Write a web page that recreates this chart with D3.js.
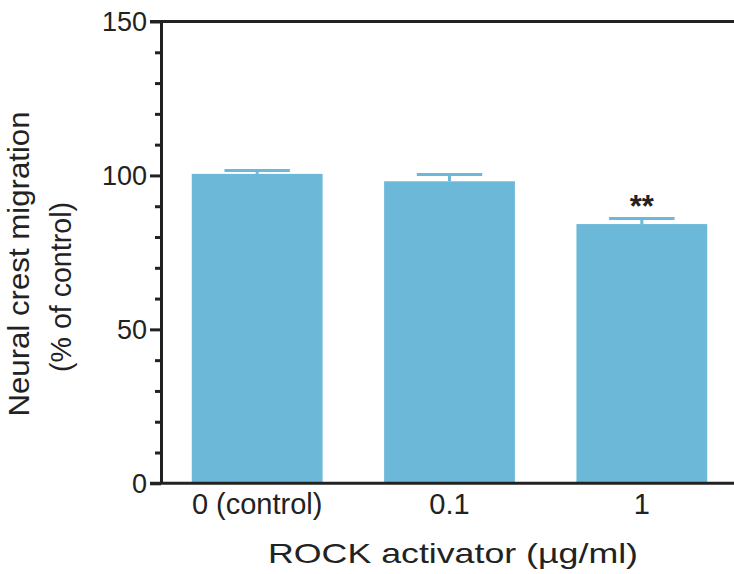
<!DOCTYPE html>
<html>
<head>
<meta charset="utf-8">
<script src="https://cdn.jsdelivr.net/npm/d3@7"></script>
<style>
  body { margin: 0; background: #fff; }
  svg text { font-family: "Liberation Sans", Arial, sans-serif; fill: #222; }
</style>
</head>
<body>
<script>
// data
var categories = ["0 (control)", "0.1", "1"];
var means = [100.5, 98.1, 84.2];
var sems = [1.1, 2.2, 1.8];
var marks = ["", "", "**"];
var yTicks = [0, 50, 100, 150];
var yMinorTicks = [10, 20, 30, 40, 60, 70, 80, 90, 110, 120, 130, 140];

var w = 734, h = 574;
var axisColor = "#222";
var barColor = "#6cb8d8";

var svg = d3.select("body").append("svg")
  .attr("width", w)
  .attr("height", h);

var x = d3.scaleBand()
  .domain(categories)
  .range([161, 738])
  .paddingInner(0.32)
  .paddingOuter(0.16);

var y = d3.scaleLinear()
  .domain([0, 150])
  .range([483.3, 21.5]);

var data = categories.map(function(c, i) {
  return { cat: c, mean: means[i], sem: sems[i], mark: marks[i] };
});

// bars
svg.selectAll("rect.bar")
  .data(data)
  .enter()
  .append("rect")
  .attr("class", "bar")
  .attr("x", function(d) { return x(d.cat); })
  .attr("y", function(d) { return y(d.mean); })
  .attr("width", x.bandwidth())
  .attr("height", function(d) { return y(0) - y(d.mean); })
  .attr("fill", barColor);

// error bars (upper half only, like the original)
var capW = x.bandwidth() * 0.5;
var err = svg.selectAll("g.err")
  .data(data)
  .enter()
  .append("g")
  .attr("class", "err");

err.append("line")
  .attr("x1", function(d) { return x(d.cat) + x.bandwidth() / 2; })
  .attr("x2", function(d) { return x(d.cat) + x.bandwidth() / 2; })
  .attr("y1", function(d) { return y(d.mean); })
  .attr("y2", function(d) { return y(d.mean + d.sem); })
  .attr("stroke", barColor)
  .attr("stroke-width", 3);

err.append("line")
  .attr("x1", function(d) { return x(d.cat) + x.bandwidth() / 2 - capW / 2; })
  .attr("x2", function(d) { return x(d.cat) + x.bandwidth() / 2 + capW / 2; })
  .attr("y1", function(d) { return y(d.mean + d.sem); })
  .attr("y2", function(d) { return y(d.mean + d.sem); })
  .attr("stroke", barColor)
  .attr("stroke-width", 3);

// significance stars
svg.selectAll("text.mark")
  .data(data)
  .enter()
  .append("text")
  .attr("class", "mark")
  .attr("x", function(d) { return x(d.cat) + x.bandwidth() / 2; })
  .attr("y", function(d) { return y(d.mean + d.sem) - 2; })
  .attr("text-anchor", "middle")
  .attr("font-size", 31)
  .attr("font-weight", "bold")
  .text(function(d) { return d.mark; });

// y axis - major ticks
var yAxis = svg.append("g")
  .attr("transform", "translate(161,0)")
  .call(d3.axisLeft(y).tickValues(yTicks).tickSize(11).tickPadding(3).tickSizeOuter(0));
yAxis.select(".domain").attr("stroke", axisColor).attr("stroke-width", 3);
yAxis.selectAll(".tick line").attr("stroke", axisColor).attr("stroke-width", 3);
yAxis.selectAll(".tick text")
  .attr("font-size", 27)
  .attr("font-family", null)
  .attr("fill", axisColor)
  .attr("dy", "0.35em");

// y axis - minor ticks
var yMinor = svg.append("g")
  .attr("transform", "translate(161,0)")
  .call(d3.axisLeft(y).tickValues(yMinorTicks).tickSize(6).tickFormat(""));
yMinor.select(".domain").remove();
yMinor.selectAll(".tick line").attr("stroke", axisColor).attr("stroke-width", 3);

// x axis
var xAxis = svg.append("g")
  .attr("transform", "translate(0," + y(0) + ")")
  .call(d3.axisBottom(x).tickSize(0).tickPadding(10));
xAxis.select(".domain").remove();
xAxis.selectAll(".tick text")
  .attr("font-size", 29)
  .attr("font-family", null)
  .attr("fill", axisColor)
  .attr("dy", "0.71em");

// x baseline and top frame line
svg.append("line")
  .attr("x1", 150).attr("x2", w)
  .attr("y1", y(0)).attr("y2", y(0))
  .attr("stroke", axisColor).attr("stroke-width", 3);
svg.append("line")
  .attr("x1", 150).attr("x2", w)
  .attr("y1", y(150)).attr("y2", y(150))
  .attr("stroke", axisColor).attr("stroke-width", 3);

// axis titles
svg.append("text")
  .attr("x", 453)
  .attr("y", 563)
  .attr("text-anchor", "middle")
  .attr("font-size", 28)
  .attr("textLength", 370)
  .attr("lengthAdjust", "spacingAndGlyphs")
  .text("ROCK activator (µg/ml)");

svg.append("text")
  .attr("transform", "translate(29,264) rotate(-90)")
  .attr("text-anchor", "middle")
  .attr("font-size", 30)
  .attr("textLength", 305)
  .attr("lengthAdjust", "spacingAndGlyphs")
  .text("Neural crest migration");

svg.append("text")
  .attr("transform", "translate(71,287) rotate(-90)")
  .attr("text-anchor", "middle")
  .attr("font-size", 30)
  .attr("textLength", 170)
  .attr("lengthAdjust", "spacingAndGlyphs")
  .text("(% of control)");
</script>
</body>
</html>
